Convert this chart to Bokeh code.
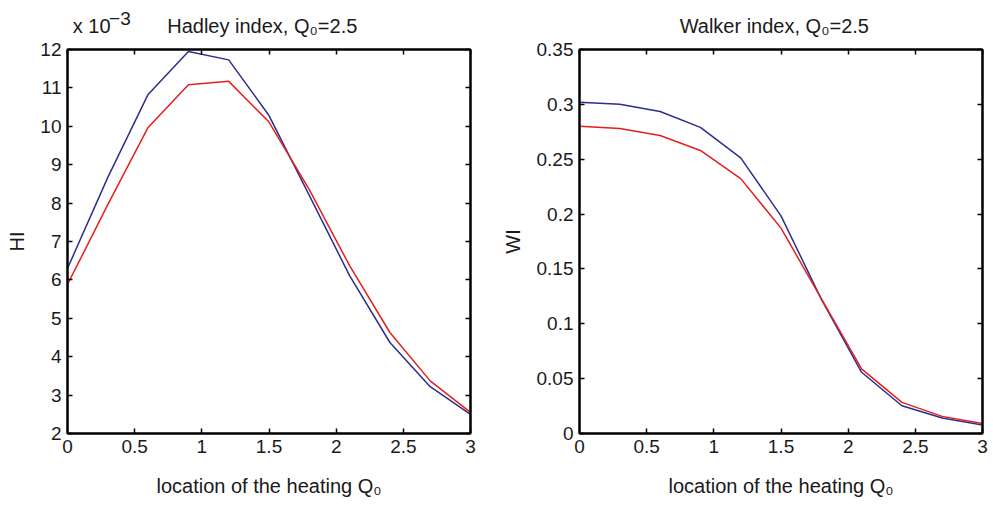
from bokeh.plotting import figure
from bokeh.models import Range1d, FixedTicker, LinearAxis
from bokeh.layouts import row
from bokeh.embed import file_html
from bokeh.resources import INLINE

# ---- data ----
location = [0.0, 0.3, 0.6, 0.9, 1.2, 1.5, 1.8, 2.1, 2.4, 2.7, 3.0]
# Hadley index (units of 1e-3)
hi_blue = [6.30, 8.67, 10.83, 11.95, 11.73, 10.28, 8.20, 6.11, 4.37, 3.22, 2.50]
hi_red = [5.88, 7.96, 9.97, 11.08, 11.17, 10.11, 8.35, 6.37, 4.63, 3.37, 2.55]
# Walker index
wi_blue = [0.302, 0.300, 0.2935, 0.279, 0.2512, 0.1984, 0.1225, 0.0558, 0.0253, 0.0141, 0.0077]
wi_red = [0.280, 0.278, 0.2716, 0.258, 0.2323, 0.1872, 0.1230, 0.0589, 0.0284, 0.0156, 0.0092]

x_ticks = [0, 0.5, 1, 1.5, 2, 2.5, 3]
x_tick_labels = ["0", "0.5", "1", "1.5", "2", "2.5", "3"]
hi_ticks = [2, 3, 4, 5, 6, 7, 8, 9, 10, 11, 12]
hi_tick_labels = ["2", "3", "4", "5", "6", "7", "8", "9", "10", "11", "12"]
wi_ticks = [0, 0.05, 0.1, 0.15, 0.2, 0.25, 0.3, 0.35]
wi_tick_labels = ["0", "0.05", "0.1", "0.15", "0.2", "0.25", "0.3", "0.35"]

title_left = "Hadley index, Q\u2080=2.5"
title_right = "Walker index, Q\u2080=2.5"
xlabel = "location of the heating Q\u2080"
mult_base = "x 10"
mult_exp = "\u22123"

BLUE = "#2b2e8f"
RED = "#e3201c"
FONT = "Liberation Sans"
TXT = "#1a1a1a"

# horizontal anchor positions (x-axis units) of the header texts
TITLE_POS = 1.45
MULT_POS = 0.18
EXP_POS = 0.39


def style_axis(ax, ticks, labels, show_labels=True):
    ax.ticker = FixedTicker(ticks=ticks)
    ax.minor_tick_line_color = None
    ax.major_tick_in = 5
    ax.major_tick_out = 0
    ax.major_tick_line_color = "black"
    ax.major_tick_line_width = 1.5
    ax.axis_line_color = "black"
    ax.axis_line_width = 2
    ax.major_label_text_font = FONT
    ax.major_label_text_color = TXT
    ax.major_label_text_font_size = "19px"
    if show_labels:
        ax.major_label_overrides = {t: l for t, l in zip(ticks, labels)}
        ax.major_label_standoff = 6
    else:
        ax.major_label_overrides = {t: "" for t in ticks}
        ax.major_label_standoff = 0
    ax.axis_label_text_font = FONT
    ax.axis_label_text_font_style = "normal"
    ax.axis_label_text_font_size = "20px"
    ax.axis_label_text_color = TXT


def header_axis(ticks, labels, minor, standoff, size):
    ax = LinearAxis(ticker=FixedTicker(ticks=ticks, minor_ticks=minor))
    ax.major_label_overrides = {t: l for t, l in zip(ticks, labels)}
    ax.major_tick_in = 0
    ax.major_tick_out = 0
    ax.major_tick_line_color = None
    ax.minor_tick_in = 5
    ax.minor_tick_out = 0
    ax.minor_tick_line_color = "black" if minor else None
    ax.minor_tick_line_width = 1.5
    ax.axis_line_color = "black" if minor else None
    ax.axis_line_width = 2
    ax.major_label_text_font = FONT
    ax.major_label_text_color = TXT
    ax.major_label_text_font_size = size
    ax.major_label_standoff = standoff
    return ax


def make(yvals_b, yvals_r, yr, yticks, ylabels, ylab, bl, br, ystand):
    p = figure(output_backend="svg", toolbar_location=None,
               frame_width=403, frame_height=384,
               min_border_left=bl, min_border_right=br,
               min_border_top=49, min_border_bottom=73,
               x_range=Range1d(0, 3), y_range=Range1d(*yr),
               x_axis_location=None, y_axis_location=None)
    p.grid.visible = False
    p.outline_line_color = "black"
    p.outline_line_width = 2
    p.background_fill_color = "white"
    p.border_fill_color = "white"

    xb = LinearAxis(axis_label=xlabel)
    style_axis(xb, x_ticks, x_tick_labels)
    xb.axis_label_standoff = 19
    p.add_layout(xb, "below")

    yl = LinearAxis(axis_label=ylab)
    style_axis(yl, yticks, ylabels)
    yl.axis_label_standoff = ystand
    p.add_layout(yl, "left")
    yrr = LinearAxis()
    style_axis(yrr, yticks, ylabels, show_labels=False)
    p.add_layout(yrr, "right")

    p.line(location, yvals_b, line_color=BLUE, line_width=1.5)
    p.line(location, yvals_r, line_color=RED, line_width=1.5)
    return p


p1 = make(hi_blue, hi_red, (2, 12), hi_ticks, hi_tick_labels, "HI", 67, 26, 9)
p1.add_layout(header_axis([MULT_POS, TITLE_POS], [mult_base, title_left], x_ticks, 13, "20px"), "above")
p1.add_layout(header_axis([EXP_POS], [mult_exp], [], -13, "19px"), "above")

p2 = make(wi_blue, wi_red, (0, 0.35), wi_ticks, wi_tick_labels, "WI", 83, 11, 10)
p2.add_layout(header_axis([TITLE_POS], [title_right], x_ticks, 13, "20px"), "above")

layout = row(p1, p2)
open("out.html", "w").write(file_html(layout, INLINE))
